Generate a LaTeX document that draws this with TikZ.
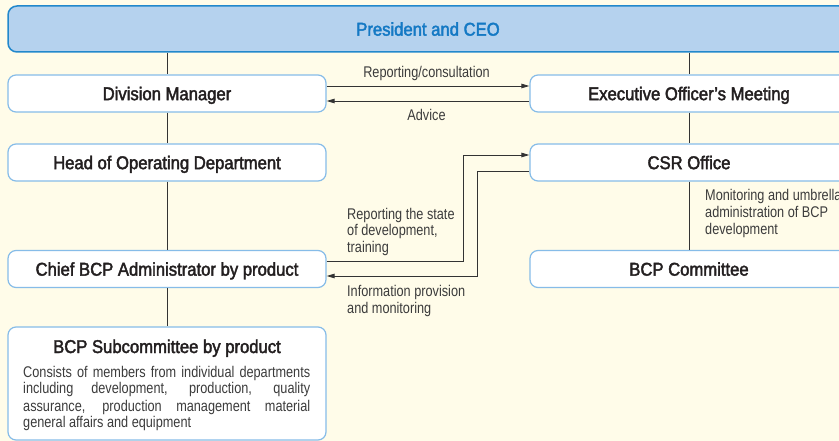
\documentclass[tikz,border=0pt]{standalone}
\usepackage{fontspec}
\setmainfont{Liberation Sans}[FakeStretch=0.82]
\newfontfamily\hfont{Liberation Sans}[FakeStretch=0.9,FakeBold=2.2]
\usetikzlibrary{arrows.meta}
\definecolor{bgc}{HTML}{FFFCE9}
\definecolor{boxline}{HTML}{86BCE8}
\definecolor{ceofill}{HTML}{B5D2EE}
\definecolor{ceoline}{HTML}{2288CC}
\definecolor{ceotext}{HTML}{1479C4}
\definecolor{headtext}{HTML}{231F20}
\definecolor{smalltext}{HTML}{3C3C3C}
\definecolor{conn}{HTML}{333333}
\newcommand\jl[1]{\hbox to 287pt{\spaceskip=0.278em plus 1fil minus 0.05em\relax #1}}
\tikzset{
  orgbox/.style={draw=boxline, line width=1.2pt, fill=white, rounded corners=8pt,
    minimum width=318pt, minimum height=37pt, inner sep=0pt,
    font=\hfont\fontsize{18.5}{20}\selectfont, text=headtext,
    text height=13.3pt, text depth=0pt},
  ceobox/.style={draw=ceoline, line width=1.5pt, fill=ceofill, rounded corners=9pt,
    minimum width=840pt, minimum height=46pt, inner sep=0pt,
    font=\hfont\fontsize{18.5}{20}\selectfont, text=ceotext,
    text height=13.3pt, text depth=0pt},
  lbl/.style={inner sep=0pt, text=smalltext, font=\fontsize{15.5}{17}\selectfont},
  vline/.style={draw=conn, line width=0.9pt},
  arr/.style={draw=conn, line width=0.9pt, -{Triangle[length=8pt,width=4.5pt]}},
}
\begin{document}
\begin{tikzpicture}[x=1pt,y=-1pt]
\useasboundingbox (0,0) rectangle (839,441);
\clip (0,0) rectangle (839,441);
\fill[bgc] (0,0) rectangle (839,441);

% boxes
\node[ceobox] (ceo) at (428,29) {President and CEO};
\node[orgbox] (dm) at (167,93.5) {Division Manager};
\node[orgbox] (hod) at (167,162.5) {Head of Operating Department};
\node[orgbox] (chief) at (167,269) {Chief BCP Administrator by product};
\node[orgbox, minimum height=113pt] (sub) at (167,383.5) {};
\node[orgbox] (exec) at (689,93.5) {Executive Officer’s Meeting};
\node[orgbox] (csr) at (689,162.5) {CSR Office};
\node[orgbox] (bcpc) at (689,269) {BCP Committee};

% subcommittee texts
\node[inner sep=0pt, anchor=base, text=headtext, font=\hfont\fontsize{18.5}{20}\selectfont]
  (subtitle) at (167,353) {BCP Subcommittee by product};
\node[lbl, anchor=base west] (subbody) at (23,377) {\vtop{\baselineskip=17pt
  \jl{Consists of members from individual departments}
  \jl{including development, production, quality}
  \jl{assurance, production management material}
  \hbox{general affairs and equipment}}};

% vertical lines
\draw[vline] (ceo.south -| dm.north) -- (dm.north);
\draw[vline] (dm.south) -- (hod.north);
\draw[vline] (hod.south) -- (chief.north);
\draw[vline] (chief.south) -- (sub.north);
\draw[vline] (ceo.south -| exec.north) -- (exec.north);
\draw[vline] (exec.south) -- (csr.north);
\draw[vline] (csr.south) -- (bcpc.north);

% arrows
\draw[arr] ([yshift=7.5pt]dm.east) -- ([yshift=7.5pt]exec.west);
\draw[arr] ([yshift=-7.5pt]exec.west) -- ([yshift=-7.5pt]dm.east);
\draw[arr] ([yshift=8pt]chief.east) -- ++(137,0) |- ([yshift=7.5pt]csr.west);
\draw[arr] ([yshift=-8.5pt]csr.west) -- ++(-52,0) |- ([yshift=-7pt]chief.east);

% labels
\node[lbl, anchor=base] (l1) at (426.5,78) {Reporting/consultation};
\node[lbl, anchor=base] (l2) at (426.5,121) {Advice};
\node[lbl, anchor=base west] (l3) at (347,219) {\vtop{\baselineskip=16.7pt
  \hbox{Reporting the state}\hbox{of development,}\hbox{training}}};
\node[lbl, anchor=base west] (l4) at (347,297) {\vtop{\baselineskip=16.7pt
  \hbox{Information provision}\hbox{and monitoring}}};
\node[lbl, anchor=base west] (l5) at (705,201) {\vtop{\baselineskip=17pt
  \hbox{Monitoring and umbrella}\hbox{administration of BCP}\hbox{development}}};
\end{tikzpicture}
\end{document}
